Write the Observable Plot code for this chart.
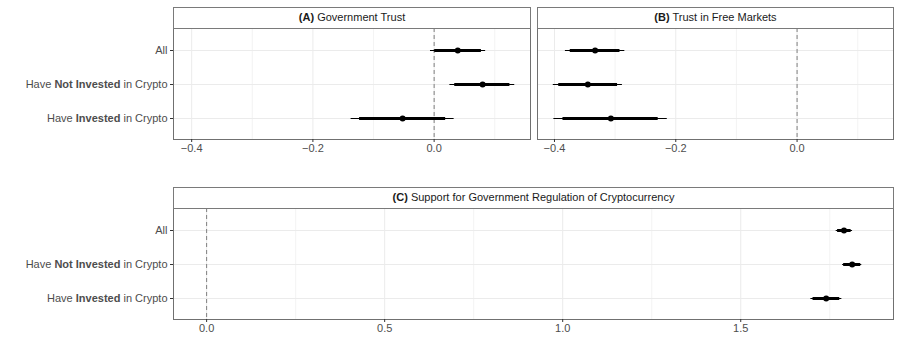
<!DOCTYPE html>
<html>
<head>
<meta charset="utf-8">
<script src="https://cdn.jsdelivr.net/npm/d3@7"></script>
<script src="https://cdn.jsdelivr.net/npm/@observablehq/plot@0.6"></script>
<style>
  html, body { margin: 0; padding: 0; background: #fff; }
  #root { position: relative; width: 900px; height: 360px; font-family: "Liberation Sans", Arial, sans-serif; }
  .panel { position: absolute; }
  .strip { position: absolute; box-sizing: border-box; border: 1px solid #7a7a7a; background: #fff;
           font-size: 11px; color: #1a1a1a; text-align: center; line-height: 19px; }
</style>
</head>
<body>
<div id="root"></div>
<script>
// ---------- data ----------
const groups = ["All", "Have Not Invested in Crypto", "Have Invested in Crypto"];

const aEst  = [0.039, 0.080, -0.052];
const aLo90 = [0.001, 0.034, -0.123];
const aHi90 = [0.078, 0.125, 0.019];
const aLo95 = [-0.006, 0.026, -0.137];
const aHi95 = [0.085, 0.133, 0.033];

const bEst  = [-0.333, -0.345, -0.307];
const bLo90 = [-0.374, -0.393, -0.386];
const bHi90 = [-0.292, -0.296, -0.229];
const bLo95 = [-0.382, -0.402, -0.401];
const bHi95 = [-0.284, -0.288, -0.214];

const cEst  = [1.790, 1.813, 1.740];
const cLo90 = [1.772, 1.789, 1.703];
const cHi90 = [1.810, 1.837, 1.778];
const cLo95 = [1.768, 1.786, 1.697];
const cHi95 = [1.814, 1.840, 1.784];

const ticksAB = [-0.4, -0.2, 0.0];
const minorAB = [-0.3, -0.1, 0.1];
const ticksC = [0.0, 0.5, 1.0, 1.5];
const minorC = [0.25, 0.75, 1.25, 1.75];

const titles = [
  ["(A)", " Government Trust"],
  ["(B)", " Trust in Free Markets"],
  ["(C)", " Support for Government Regulation of Cryptocurrency"]
];
const labelParts = {
  "All": [["All", false]],
  "Have Not Invested in Crypto": [["Have ", false], ["Not Invested", true], [" in Crypto", false]],
  "Have Invested in Crypto": [["Have ", false], ["Invested", true], [" in Crypto", false]]
};

function rows(est, lo90, hi90, lo95, hi95) {
  return groups.map((g, i) => ({group: g, est: est[i], lo90: lo90[i], hi90: hi90[i], lo95: lo95[i], hi95: hi95[i]}));
}

const fmt = d => (d < 0 ? "\u2212" : "") + Math.abs(d).toFixed(1);

function panel({data, domain, ticks, minor, width, marginLeft, marginRight, showY}) {
  return Plot.plot({
    width, height: 165,
    marginLeft, marginRight, marginTop: 28, marginBottom: 26,
    style: {fontFamily: "'Liberation Sans', Arial, sans-serif", fontSize: "11px", color: "#4d4d4d", background: "transparent", overflow: "visible"},
    x: {domain, label: null, axis: null},
    y: {domain: groups, type: "point", padding: 0.6, label: null, axis: null},
    marks: [
      Plot.ruleX(minor, {stroke: "#f0f0f0", strokeWidth: 0.8}),
      Plot.ruleX(ticks, {stroke: "#ebebeb", strokeWidth: 1}),
      Plot.ruleY(groups, {y: d => d, stroke: "#ebebeb", strokeWidth: 1}),
      Plot.ruleX([0], {stroke: "#808080", strokeDasharray: "4,3", strokeWidth: 1}),
      Plot.ruleY(data, {y: "group", x1: "lo95", x2: "hi95", stroke: "#000", strokeWidth: 1}),
      Plot.ruleY(data, {y: "group", x1: "lo90", x2: "hi90", stroke: "#000", strokeWidth: 3}),
      Plot.dot(data, {x: "est", y: "group", r: 3, fill: "#000", stroke: null}),
      Plot.frame({stroke: "#707070", strokeWidth: 1}),
      Plot.axisX({ticks, tickFormat: fmt, tickSize: 3, tickPadding: 2, stroke: "#333", fill: "#4d4d4d"}),
      showY
        ? Plot.axisY({tickSize: 3, tickPadding: 3, stroke: "#333", fill: "#4d4d4d"})
        : null
    ]
  });
}

function boldLabels(svg) {
  d3.select(svg).selectAll("g[aria-label='y-axis tick label'] text").each(function() {
    const t = this.textContent;
    const parts = labelParts[t];
    if (!parts) return;
    const sel = d3.select(this);
    sel.text(null);
    for (const [s, b] of parts) {
      sel.append("tspan").text(s).attr("font-weight", b ? "bold" : null);
    }
  });
}

const root = document.getElementById("root");

function place(el, left, top) {
  const wrap = document.createElement("div");
  wrap.className = "panel";
  wrap.style.left = left + "px";
  wrap.style.top = top + "px";
  wrap.appendChild(el);
  root.appendChild(wrap);
  return el;
}

function strip(idx, left, top, width) {
  const div = document.createElement("div");
  div.className = "strip";
  div.style.left = left + "px";
  div.style.top = top + "px";
  div.style.width = width + "px";
  div.style.height = "22px";
  const b = document.createElement("b");
  b.textContent = titles[idx][0];
  div.appendChild(b);
  div.appendChild(document.createTextNode(titles[idx][1]));
  root.appendChild(div);
}

const pA = panel({data: rows(aEst, aLo90, aHi90, aLo95, aHi95), domain: [-0.43, 0.159], ticks: ticksAB, minor: minorAB,
  width: 533, marginLeft: 173, marginRight: 3, showY: true});
boldLabels(pA);
place(pA, 0, 0);

const pB = panel({data: rows(bEst, bLo90, bHi90, bLo95, bHi95), domain: [-0.428, 0.159], ticks: ticksAB, minor: minorAB,
  width: 367, marginLeft: 4, marginRight: 7, showY: false});
place(pB, 533, 0);

const pC = panel({data: rows(cEst, cLo90, cHi90, cLo95, cHi95), domain: [-0.093, 1.929], ticks: ticksC, minor: minorC,
  width: 900, marginLeft: 173, marginRight: 7, showY: true});
boldLabels(pC);
place(pC, 0, 180);

strip(0, 173, 7, 358);
strip(1, 537, 7, 357);
strip(2, 173, 187, 721);
</script>
</body>
</html>
